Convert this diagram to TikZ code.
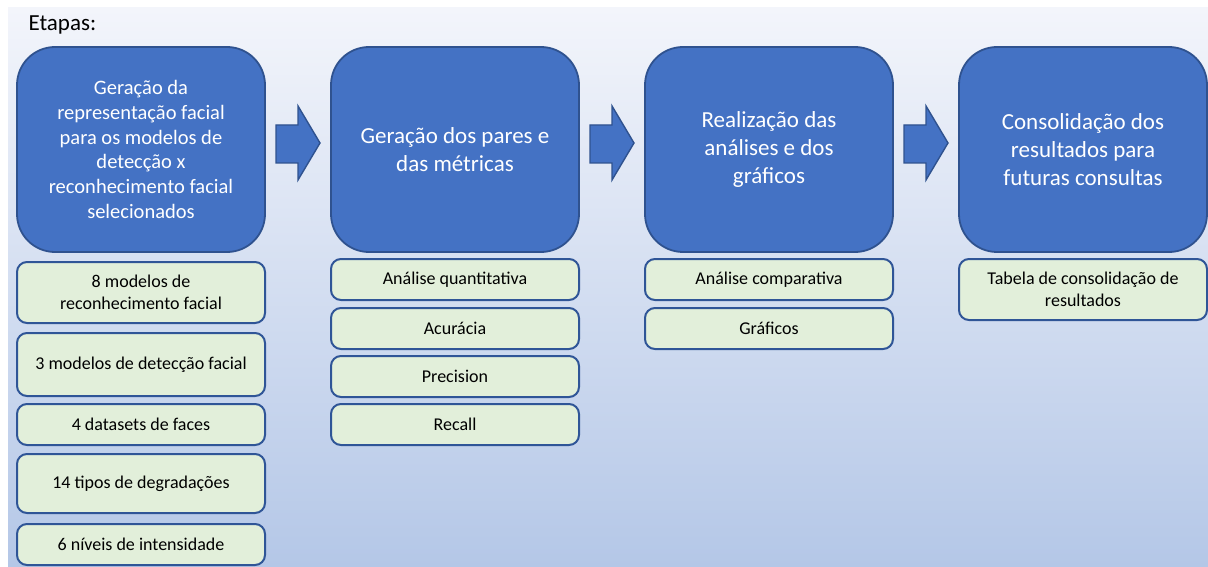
\documentclass[tikz,border=0pt]{standalone}
\usepackage{fontspec}
\setmainfont{Carlito}
\definecolor{stagefill}{HTML}{4472C4}
\definecolor{stageline}{HTML}{2F528F}
\definecolor{itemfill}{HTML}{E2EFDA}
\definecolor{itemline}{HTML}{2F5597}
\definecolor{bgtop}{RGB}{243,245,251}
\definecolor{bgbot}{RGB}{180,199,231}
\begin{document}
\begin{tikzpicture}[x=1pt,y=-1pt,
  stage/.style={draw=stageline,line width=1.8pt,fill=stagefill,rounded corners=38pt,minimum width=248pt,minimum height=205pt,inner sep=0pt,align=center,text=white,font=\fontsize{23}{28}\selectfont},
  item/.style={draw=itemline,line width=2pt,fill=itemfill,rounded corners=10pt,minimum width=248pt,minimum height=41pt,inner sep=0pt,align=center,font=\fontsize{18}{22}\selectfont},
  flow/.style={draw=stageline,line width=1.4pt,fill=stagefill,line join=miter}]
\useasboundingbox (0,0) rectangle (1208,567);
\fill[top color=bgtop,bottom color=bgbot] (8,8) rectangle (1208,567);
\node[anchor=west,font=\fontsize{23}{28}\selectfont] (etapas) at (25,25) {Etapas:};
% stages
\node[stage,font=\fontsize{20.5}{24.8}\selectfont] (geracao) at (141,149.5) {Geração da\\representação facial\\para os modelos de\\detecção x\\reconhecimento facial\\selecionados};
\node[stage] (pares) at (455,149.5) {Geração dos pares e\\das métricas};
\node[stage] (analises) at (769,149.5) {Realização das\\análises e dos\\gráficos};
\node[stage] (consolidacao) at (1083,149.5) {Consolidação dos\\resultados para\\futuras consultas};
% block arrows between stages
\foreach \x in {276,590,904}
  \draw[flow] (\x,125) -- (\x+22,125) -- (\x+22,106) -- (\x+44,143) -- (\x+22,180) -- (\x+22,163) -- (\x,163) -- cycle;
% items
\node[item,minimum height=61pt] (modrec) at (141,292.5) {8 modelos de\\reconhecimento facial};
\node[item,minimum height=63pt] (moddet) at (141,364.5) {3 modelos de detecção facial};
\node[item] (datasets) at (141,424.5) {4 datasets de faces};
\node[item,minimum height=59pt] (degrad) at (141,483.5) {14 tipos de degradações};
\node[item] (niveis) at (141,544.5) {6 níveis de intensidade};
\node[item] (quant) at (455,279.5) {Análise quantitativa};
\node[item] (acur) at (455,328.5) {Acurácia};
\node[item] (prec) at (455,376.5) {Precision};
\node[item] (recall) at (455,424.5) {Recall};
\node[item] (comp) at (769,279.5) {Análise comparativa};
\node[item] (graf) at (769,328.5) {Gráficos};
\node[item,minimum height=61pt] (tabela) at (1083,289.5) {Tabela de consolidação de\\resultados};
\end{tikzpicture}
\end{document}
